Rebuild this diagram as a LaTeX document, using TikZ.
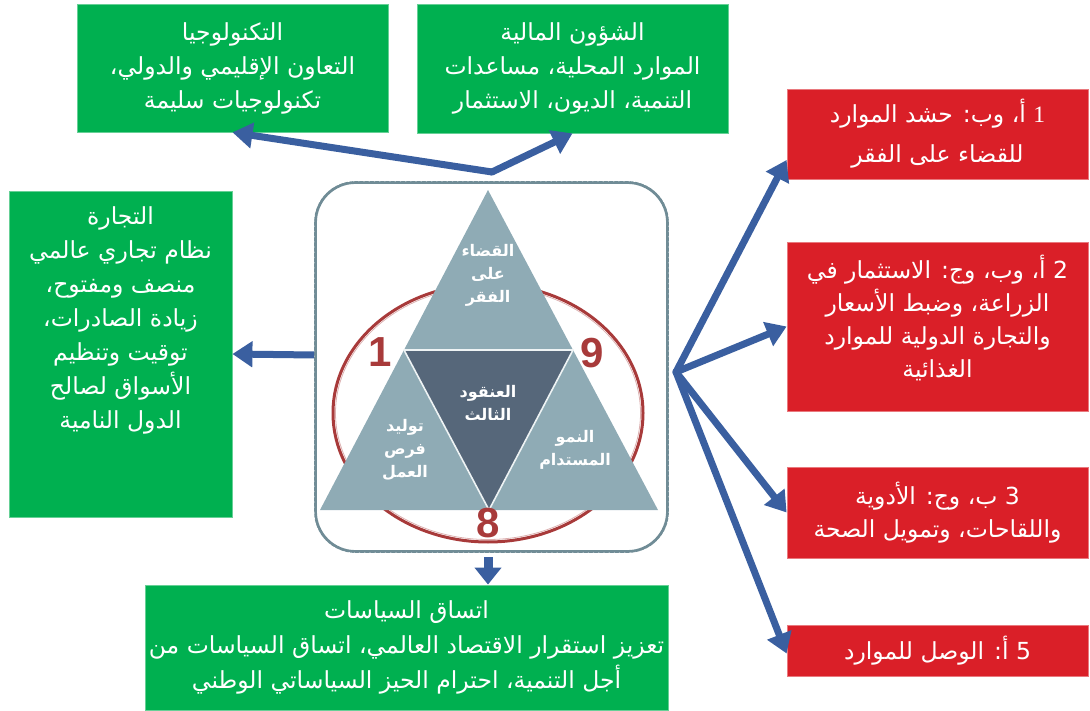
\documentclass[tikz,border=0pt]{standalone}
\usepackage{fontspec}
\setmainfont{Liberation Sans}
\newfontfamily\arabicfont[Script=Arabic]{DejaVu Sans}
\newfontfamily\serifdigit{Liberation Serif}
\TeXXeTstate=1
\usetikzlibrary{arrows.meta}
\definecolor{boxgreen}{RGB}{0,176,80}
\definecolor{boxred}{RGB}{218,31,40}
\definecolor{arrowblue}{RGB}{58,95,160}
\definecolor{trilight}{RGB}{143,171,181}
\definecolor{tridark}{RGB}{86,103,122}
\definecolor{framegray}{RGB}{112,140,150}
\definecolor{numred}{RGB}{168,58,58}
\newcommand\RL[1]{\beginR #1\endR}
\begin{document}
\begin{tikzpicture}[x=1pt,y=-1pt,
  gbox/.style={fill=boxgreen, draw=boxgreen!60!white, line width=0.8pt, text=white,
    font=\arabicfont\fontsize{23.5}{34}\selectfont, align=center, inner sep=0pt},
  rbox/.style={fill=boxred, draw=boxred!60!white, line width=0.8pt, text=white,
    font=\arabicfont\fontsize{23.5}{33}\selectfont, align=center, inner sep=0pt},
  gtext/.style={text=white, font=\arabicfont\fontsize{23.5}{34}\selectfont, align=center, inner sep=0pt},
  conn/.style={draw=arrowblue, line width=7pt, line cap=round,
    -{Triangle[length=20pt,width=25pt]}},
  tritext/.style={text=white, font=\arabicfont\bfseries\fontsize{16}{23}\selectfont, align=center, inner sep=0pt},
  bignum/.style={text=numred, font=\bfseries\fontsize{42}{42}\selectfont, inner sep=0pt}
]
\useasboundingbox (0,0) rectangle (1090,711);

% ---- central frame ----
\node[draw=framegray, line width=2.8pt, rounded corners=40pt,
      minimum width=352, minimum height=369, inner sep=0pt] (frame) at (491.5,367) {};
\draw[white, line width=0.7pt, dash pattern=on 1.2pt off 4pt, rounded corners=40pt]
  (frame.south west) rectangle (frame.north east);

% ---- ellipse ----
\draw[numred, line width=3pt] (488,413) ellipse [x radius=155pt, y radius=129pt];
\draw[numred!40!white, line width=0.8pt] (488,413) ellipse [x radius=152.5pt, y radius=126.5pt];

% ---- triangles ----
\coordinate (A) at (488,190);
\coordinate (L) at (320,510);
\coordinate (R) at (658,510);
\coordinate (ML) at (404,350);
\coordinate (MR) at (573,350);
\coordinate (MB) at (489,510);
\fill[trilight] (A) -- (ML) -- (MR) -- cycle;
\fill[trilight] (ML) -- (L) -- (MB) -- cycle;
\fill[trilight] (MR) -- (MB) -- (R) -- cycle;
\fill[tridark] (ML) -- (MR) -- (MB) -- cycle;
\draw[white!85!trilight, line width=1.6pt, line join=round] (ML) -- (MR) -- (MB) -- cycle;

\node[tritext] (t1) at (488,275) {\RL{القضاء}\\\RL{على}\\\RL{الفقر}};
\node[tritext] (t2) at (488,403) {\RL{العنقود}\\\RL{الثالث}};
\node[tritext] (t3) at (405,450) {\RL{توليد}\\\RL{فرص}\\\RL{العمل}};
\node[tritext] (t4) at (575,450) {\RL{النمو}\\\RL{المستدام}};

\node[bignum] (n1) at (380,352) {1};
\node[bignum] (n9) at (592,353) {9};
\node[bignum] (n8) at (488,523) {8};

% ---- green boxes ----
\node[gbox, minimum width=311, minimum height=128] (tech) at (232.5,68)
  {\RL{التكنولوجيا}\\\RL{التعاون الإقليمي والدولي،}\\\RL{تكنولوجيات سليمة}};
\node[gbox, minimum width=311, minimum height=129] (fin) at (572.5,68.5)
  {\RL{الشؤون المالية}\\\RL{الموارد المحلية، مساعدات}\\\RL{التنمية، الديون، الاستثمار}};
\node[gbox, minimum width=223, minimum height=326] (trade) at (120.5,354) {};
\node[gtext] (tradetext) at (120.5,320)
  {\RL{التجارة}\\\RL{نظام تجاري عالمي}\\\RL{منصف ومفتوح،}\\\RL{زيادة الصادرات،}\\\RL{توقيت وتنظيم}\\\RL{الأسواق لصالح}\\\RL{الدول النامية}};
\node[gbox, minimum width=523, minimum height=125, font=\arabicfont\fontsize{23.5}{35}\selectfont] (policy) at (406.5,647.5)
  {\RL{اتساق السياسات}\\\RL{تعزيز استقرار الاقتصاد العالمي، اتساق السياسات من}\\\RL{أجل التنمية، احترام الحيز السياساتي الوطني}};

% ---- red boxes ----
\node[rbox, minimum width=301, minimum height=90, font=\arabicfont\fontsize{23.5}{40}\selectfont] (r1) at (937.5,134)
  {\RL{{\serifdigit 1} أ، وب: حشد الموارد}\\\RL{للقضاء على الفقر}};
\node[rbox, minimum width=301, minimum height=169] (r2) at (937.5,326.5) {};
\node[gtext, font=\arabicfont\fontsize{23.5}{33}\selectfont] (r2text) at (937.5,318)
  {\RL{2 أ، وب، وج: الاستثمار في}\\\RL{الزراعة، وضبط الأسعار}\\\RL{والتجارة الدولية للموارد}\\\RL{الغذائية}};
\node[rbox, minimum width=301, minimum height=91] (r3) at (937.5,512.5)
  {\RL{3 ب، وج: الأدوية}\\\RL{واللقاحات، وتمويل الصحة}};
\node[rbox, minimum width=301, minimum height=51] (r5) at (937.5,650.5)
  {\RL{5 أ: الوصل للموارد}};

% ---- connectors ----
\coordinate (jt) at (492,172);
\draw[conn] (jt) -- (tech.south);
\draw[conn] (jt) -- (fin.south);
\coordinate (jl) at (314,355);
\draw[conn, line cap=butt] (jl) -- (trade.east);
\coordinate (jb) at (488,557);
\draw[draw=arrowblue, line width=9pt, -{Triangle[length=17pt,width=26pt]}] (jb) -- (jb |- policy.north);
\coordinate (jr) at (676,372);
\draw[conn] (jr) -- ([yshift=-26pt]r1.west);
\draw[conn] (jr) -- (r2.west);
\draw[conn] (jr) -- (r3.west);
\draw[conn] (jr) -- ([yshift=-3pt]r5.west);
\end{tikzpicture}
\end{document}
